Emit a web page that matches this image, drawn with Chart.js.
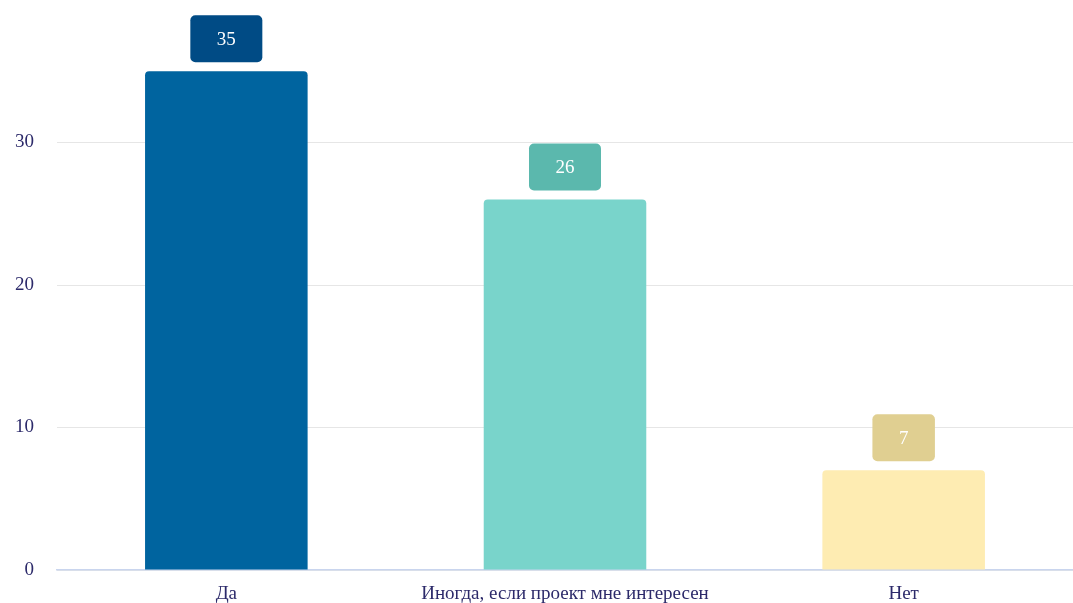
<!DOCTYPE html>
<html>
<head>
<meta charset="utf-8">
<script src="https://cdn.jsdelivr.net/npm/chart.js@4"></script>
<style>
  html, body { margin: 0; padding: 0; background: #fff; }
  #wrap { width: 1073px; height: 603px; }
</style>
</head>
<body>
<div id="wrap"><canvas id="chart" width="1073" height="603"></canvas></div>
<script>
// data
const categories = ['Да', 'Иногда, если проект мне интересен', 'Нет'];
const answers = [35, 26, 7];
const barColors = ['#00649f', '#79d4cb', '#feecb2'];
const labelColors = ['#004b85', '#5bb8ad', '#e0cf91'];
const yTicks = [0, 10, 20, 30];

const fontFamily = '"Liberation Serif", "Times New Roman", serif';
const textColor = '#2c2a6a';

// draws the value boxes above each bar
const valueBoxes = {
    id: 'valueBoxes',
    afterDatasetsDraw(chart) {
        const ctx = chart.ctx;
        const meta = chart.getDatasetMeta(0);
        ctx.save();
        ctx.font = '19px ' + fontFamily;
        meta.data.forEach((bar, i) => {
            const text = String(chart.data.datasets[0].data[i]);
            const w = ctx.measureText(text).width + 53;
            const h = 47;
            const x = bar.x - w / 2;
            const y = bar.y - 9 - h;
            ctx.fillStyle = labelColors[i];
            ctx.beginPath();
            ctx.roundRect(x, y, w, h, 5);
            ctx.fill();
            ctx.fillStyle = '#ffffff';
            ctx.textAlign = 'center';
            ctx.textBaseline = 'middle';
            ctx.fillText(text, bar.x, y + h / 2 + 1);
        });
        ctx.restore();
    }
};

document.addEventListener('DOMContentLoaded', function() {
    const ctx = document.getElementById('chart').getContext('2d');
    new Chart(ctx, {
        type: 'bar',
        data: {
            labels: categories,
            datasets: [{
                data: answers,
                backgroundColor: barColors,
                borderRadius: { topLeft: 4, topRight: 4 },
                borderSkipped: 'bottom',
                barPercentage: 0.48,
                categoryPercentage: 1
            }]
        },
        options: {
            responsive: false,
            animation: false,
            layout: { padding: 0 },
            plugins: {
                legend: { display: false },
                tooltip: { enabled: false }
            },
            scales: {
                x: {
                    grid: { display: false },
                    border: { color: '#c9d5ee', width: 1.5 },
                    afterFit(scale) {
                        scale.height = 33;
                        scale.paddingLeft = 0;
                        scale.paddingRight = 0;
                    },
                    ticks: {
                        color: textColor,
                        font: { family: fontFamily, size: 19 },
                        padding: 5
                    }
                },
                y: {
                    min: 0,
                    max: 40,
                    afterBuildTicks(scale) {
                        scale.ticks = yTicks.map(v => ({ value: v }));
                    },
                    afterFit(scale) {
                        scale.width = 57;
                        scale.paddingTop = 0;
                        scale.paddingBottom = 0;
                    },
                    grid: { color: '#e6e6e6', drawTicks: false },
                    border: { display: false },
                    ticks: {
                        color: textColor,
                        font: { family: fontFamily, size: 19 },
                        padding: 23
                    }
                }
            }
        },
        plugins: [valueBoxes]
    });
});
</script>
</body>
</html>
